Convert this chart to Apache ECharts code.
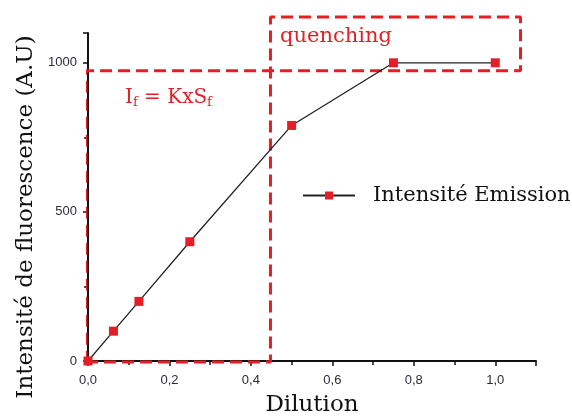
<!DOCTYPE html>
<html><head><meta charset="utf-8">
<script src="https://cdn.jsdelivr.net/npm/echarts@6/dist/echarts.min.js"></script>
<style>html,body{margin:0;padding:0;background:#fff}#c{width:572px;height:416px}</style>
</head><body><div id="c"></div>
<script>
var dilution = [0, 0.0625, 0.125, 0.25, 0.5, 0.75, 1.0];
var intensity = [0, 100, 200, 400, 790, 1000, 1000];
var seriesName = 'Intensité Emission';
var xTitle = 'Dilution';
var yTitle = 'Intensité de fluorescence (A.U)';
// annotation box outline (data coordinates)
var boxX = [-0.005, 0.448, 0.448, 1.062, 1.062, -0.005, -0.005];
var boxY = [-3, -3, 1154, 1154, 973, 973, -3];

var serif = 'DejaVu Serif';
var red = '#e41e26';
var chart = echarts.init(document.getElementById('c'));
chart.setOption({
  animation: false,
  grid: {left: 88, right: 36, top: 33, bottom: 55, containLabel: false, outerBoundsMode: 'none'},
  xAxis: {
    type: 'value', min: 0, max: 1.1, interval: 0.2,
    name: xTitle, nameLocation: 'middle', nameGap: 33,
    nameTextStyle: {fontFamily: serif, fontSize: 23, color: '#111'},
    axisLine: {lineStyle: {color: '#111', width: 2}},
    axisTick: {lineStyle: {color: '#111', width: 1.5}, length: 5},
    minorTick: {show: true, splitNumber: 2, length: 4, lineStyle: {color: '#111', width: 1.5}},
    axisLabel: {showMaxLabel: false, color: '#2b2b3a', fontFamily: 'Liberation Sans', fontSize: 13, margin: 13,
      formatter: function(v){return v.toFixed(1).replace('.', ',');}},
    splitLine: {show: false}
  },
  yAxis: {
    type: 'value', min: 0, max: 1100, interval: 500,
    name: yTitle, nameLocation: 'middle', nameGap: 48,
    nameTextStyle: {fontFamily: serif, fontSize: 23, color: '#111', padding: [0, 40, 0, 0]},
    axisLine: {show: true, lineStyle: {color: '#111', width: 2}},
    axisTick: {show: true, lineStyle: {color: '#111', width: 1.5}, length: 5},
    minorTick: {show: true, splitNumber: 2, length: 4, lineStyle: {color: '#111', width: 1.5}},
    axisLabel: {showMaxLabel: false, color: '#2b2b3a', fontFamily: 'Liberation Sans', fontSize: 13, margin: 11,
      formatter: function(v){return String(v);}},
    splitLine: {show: false}
  },
  legend: {
    show: true, data: [seriesName], left: 297, top: 180,
    itemWidth: 52, itemHeight: 10, itemGap: 10,
    textStyle: {fontFamily: serif, fontSize: 21, color: '#111', padding: [0,0,0,13]}
  },
  series: [
    {
      name: 'box', type: 'line', clip: false, silent: true, symbol: 'none',
      data: boxX.map(function(x, i){return [x, boxY[i]];}),
      lineStyle: {color: red, width: 3, type: [12, 6]}, z: 1
    },
    {
      name: seriesName, type: 'line', symbol: 'rect', symbolSize: 9,
      data: dilution.map(function(x, i){return [x, intensity[i]];}),
      lineStyle: {color: '#222', width: 1.3},
      itemStyle: {color: red}, z: 3
    }
  ],
  graphic: [
    {type: 'text', left: 280, top: 26, style: {text: 'quenching', font: '21px "DejaVu Serif"', fill: red}},
    {type: 'text', left: 125, top: 88, style: {
      text: '{a|I}{s|f}{a| = KxS}{s|f}',
      fill: red,
      rich: {a: {fontFamily: serif, fontSize: 20, fill: red},
             s: {fontFamily: serif, fontSize: 13, fill: red, verticalAlign: 'bottom', padding: [10,0,0,0]}}
    }}
  ]
});
</script></body></html>
